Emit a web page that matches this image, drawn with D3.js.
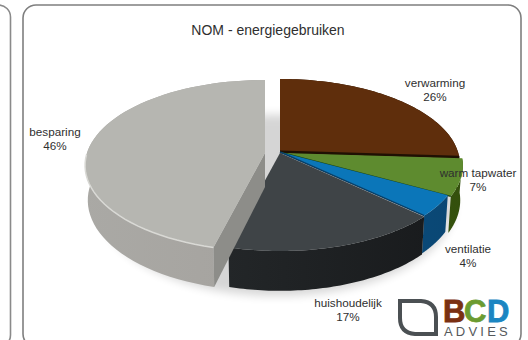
<!DOCTYPE html>
<html>
<head>
<meta charset="utf-8">
<script src="https://cdn.jsdelivr.net/npm/d3@7/dist/d3.min.js"></script>
<style>
html,body{margin:0;padding:0;background:#fff}
svg{display:block}
text{font-family:"Liberation Sans",Arial,sans-serif;fill:#2f2f2f}
</style>
</head>
<body>
<svg id="chart" width="528" height="340"></svg>
<script>
// Energy use shares
const titleText = "NOM - energiegebruiken";
const categories = ["verwarming", "warm tapwater", "ventilatie", "huishoudelijk", "besparing"];
const shares = [26, 7, 4, 17, 46];

// Styling per slice
const topColors  = ["#5f2e0c", "#5e8b2f", "#0b76b9", "#3f4447", "#b6b6b1"];
const wallColors = [["#2a1505", "#2a1505"], ["#4a7018", "#334f0c"], ["#0a5a96", "#0a4672"], ["#2a2e30", "#17191b"], ["#aaa9a5", "#a09c98"]];
const seamColors = ["#1f1003", "#17400f", "#0a3f66", "#2a2e30", "#8f8f8a"];
const sliceShift = [[0, 0], [3, 1], [0, 0], [0, 1], [-15, 1]];
const labelAnchors = [[435, 87], [478, 177], [468, 253], [348, 307], [55, 136]];

const svg = d3.select("#chart");
const defs = svg.append("defs");

// Perspective view of the pie disc, centred on (cx, cy)
const cx = 280, cy = 152, radius = 178, tilt = 83.7, depth = 0.146, wall = 34;
const scaleX = d3.scaleLinear().domain([-1, 1]).range([cx - radius, cx + radius]);
const scaleY = d3.scaleLinear().domain([-1, 1]).range([cy - tilt, cy + tilt]);

function project(angle, r, shift, lower) {
  const u = Math.sin(angle) * r, v = -Math.cos(angle) * r;
  const s = 1 / (1 - depth * v);
  const shrink = lower ? 0.985 : 1;
  return [
    cx + (scaleX(u) - cx) * s * shrink + shift[0],
    cy + (scaleY(v) - cy) * s + shift[1] + (lower ? wall * s : 0)
  ];
}

const pie = d3.pie().sort(null).value(d => d).startAngle(0).endAngle(2 * Math.PI);
const arcs = pie(shares);
const line = d3.line();
const samples = a => d3.range(0, 61).map(i => a.startAngle + (a.endAngle - a.startAngle) * i / 60);

// Panels behind the chart
defs.append("filter").attr("id", "soft").attr("x", "-20%").attr("y", "-20%").attr("width", "140%").attr("height", "140%")
  .append("feGaussianBlur").attr("stdDeviation", 5);

svg.append("rect").attr("x", -40).attr("y", 5).attr("width", 50.5).attr("height", 342).attr("rx", 12)
  .attr("fill", "#fff").attr("stroke", "#8a8a8a").attr("stroke-width", 1.6);
svg.append("rect").attr("x", 23).attr("y", 5).attr("width", 498).attr("height", 342).attr("rx", 13)
  .attr("fill", "#fff").attr("stroke", "#7f7f7f").attr("stroke-width", 1.6);

svg.append("text").attr("x", 268).attr("y", 35).attr("text-anchor", "middle")
  .attr("font-size", 14).text(titleText);

// Soft cast shadow under the front rim
const rimAll = d3.range(0, 121).map(i => project(i / 120 * 2 * Math.PI, 1, [-3, 6], true));
svg.append("path").attr("d", line(rimAll) + "Z").attr("fill", "#000").attr("opacity", 0.16).attr("filter", "url(#soft)");

// Wall gradients
arcs.forEach((a, i) => {
  const g = defs.append("linearGradient").attr("id", "wall" + i).attr("gradientUnits", "userSpaceOnUse")
    .attr("x1", 80).attr("x2", 470).attr("y1", 0).attr("y2", 0);
  g.append("stop").attr("offset", 0).attr("stop-color", wallColors[i][0]);
  g.append("stop").attr("offset", 1).attr("stop-color", wallColors[i][1]);
});

const slices = svg.selectAll("g.slice").data(arcs).join("g").attr("class", "slice");

slices.each(function (a, i) {
  const g = d3.select(this), shift = sliceShift[i], angles = samples(a);
  const apex = project(0, 0, shift, false), apexLow = project(0, 0, shift, true);
  const upper = angles.map(t => project(t, 1, shift, false));
  const lower = angles.map(t => project(t, 1, shift, true));

  // Outer wall
  g.append("path").attr("d", line(upper.concat(lower.slice().reverse())) + "Z").attr("fill", `url(#wall${i})`);

  // Cut face along the leading edge of the grey slice
  if (i === 4) {
    g.append("path")
      .attr("d", line([apex, upper[0], lower[0], apexLow]) + "Z")
      .attr("fill", "#8d8d89");
  }

  // Top surface
  g.append("path").attr("d", line([apex].concat(upper)) + "Z").attr("fill", topColors[i]);

  // Seam at the closing edge of the slice
  if (i < 3) {
    g.append("path").attr("d", line([apex, upper[upper.length - 1]]))
      .attr("stroke", seamColors[i]).attr("stroke-width", i === 0 ? 3 : 1.4).attr("fill", "none");
  }

  // Light bevel along the front of the grey rim
  if (i === 4) {
    g.append("path").attr("d", line(upper.slice(0, 28)))
      .attr("fill", "none").attr("stroke", "#d9d9d5").attr("stroke-width", 1.5);
  }
});

// Category labels with percentages
const labels = svg.selectAll("g.label").data(arcs).join("g").attr("class", "label")
  .attr("transform", (d, i) => `translate(${labelAnchors[i][0]},${labelAnchors[i][1]})`)
  .attr("text-anchor", "middle").attr("font-size", 11.7);
labels.append("text").text((d, i) => categories[i]);
labels.append("text").attr("y", 14).text(d => d.value + "%");

// Company mark
const logo = svg.append("g");
logo.append("path")
  .attr("d", "M400 301H421Q436 302 436 317V334H415Q400 333 400 318Z")
  .attr("fill", "none").attr("stroke", "#4b5053").attr("stroke-width", 4);
const logoLetters = [["B", 443, "#7a3012"], ["C", 464, "#6b9b31"], ["D", 487, "#1b86c2"]];
logo.selectAll("text.mark").data(logoLetters).join("text").attr("class", "mark")
  .attr("x", d => d[1]).attr("y", 322).attr("font-size", 31).attr("font-weight", 700)
  .style("fill", d => d[2]).style("stroke", d => d[2]).style("stroke-width", 0.8).text(d => d[0]);
logo.append("text").attr("x", 444).attr("y", 335.5).attr("font-size", 13)
  .attr("letter-spacing", 3.2).style("fill", "#55595c").text("ADVIES");
</script>
</body>
</html>
